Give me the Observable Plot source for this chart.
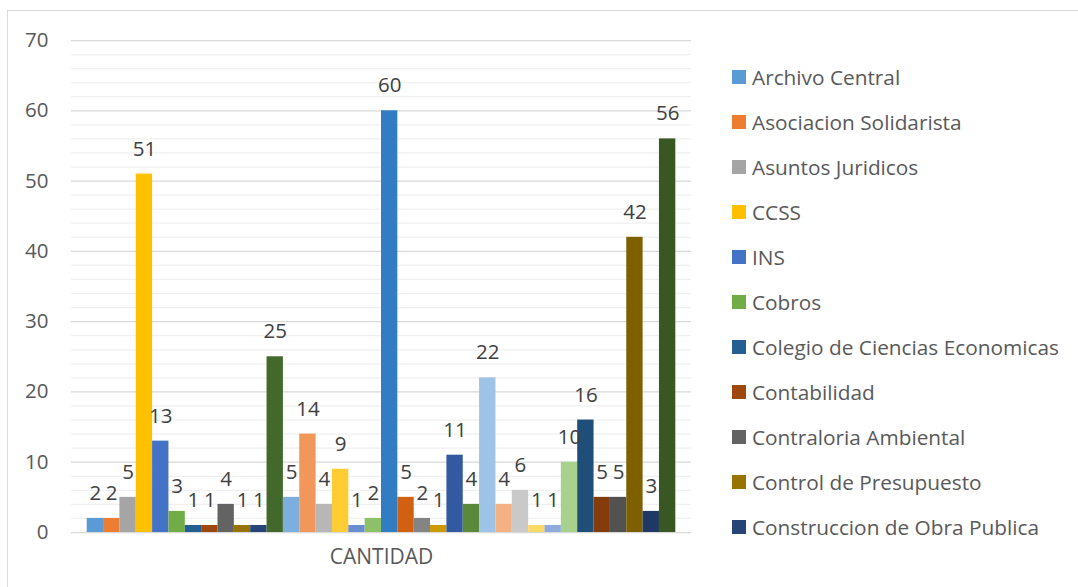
<!DOCTYPE html>
<html><head><meta charset="utf-8">
<script src="https://cdn.jsdelivr.net/npm/d3@7"></script>
<script src="https://cdn.jsdelivr.net/npm/@observablehq/plot@0.6"></script>
<style>
body{margin:0;background:#fff;font-family:"Open Sans",sans-serif;}
#wrap{position:relative;width:1078px;height:587px;overflow:hidden;background:#fff;}
#frame{position:absolute;left:7px;top:10px;width:1100px;height:620px;border:1.5px solid #d9d9d9;box-sizing:border-box;}
#chart{position:absolute;left:0;top:0;}
#legend{position:absolute;left:732px;top:54.5px;}
.row{display:flex;align-items:center;height:45px;font-size:20.8px;color:#595959;white-space:nowrap;}
.sw{width:14px;height:14px;margin-right:6px;flex:none;}
</style></head>
<body>
<div id="wrap"><div id="frame"></div><div id="chart"></div><div id="legend"></div></div>
<script>
// Values (one bar per area, in the chart's order)
const values = [2,2,5,51,13,3,1,1,4,1,1,25,5,14,4,9,1,2,60,5,2,1,11,4,22,4,6,1,1,10,16,5,5,42,3,56];
// Series names visible in the legend (the legend shows only the first 11)
const legendNames = ["Archivo Central","Asociacion Solidarista","Asuntos Juridicos","CCSS","INS","Cobros",
  "Colegio de Ciencias Economicas","Contabilidad","Contraloria Ambiental","Control de Presupuesto","Construccion de Obra Publica"];
// Excel-style series colours
const colors = ["#5B9BD5","#ED7D31","#A5A5A5","#FFC000","#4472C4","#70AD47",
  "#255E91","#9E480E","#636363","#997300","#264478","#43682B",
  "#7CAFDD","#F1975A","#B7B7B7","#FFCD33","#698ED0","#8CC168",
  "#327DC2","#D26012","#848484","#CC9A00","#335AA1","#5A8A39",
  "#9DC3E6","#F4B183","#C9C9C9","#FFD966","#8FAADC","#A9D18E",
  "#1F4E79","#843C0C","#525252","#7F6000","#203864","#385723"];
const yTicks = [0,10,20,30,40,50,60,70];
const yMinor = [2,4,6,8,12,14,16,18,22,24,26,28,32,34,36,38,42,44,46,48,52,54,56,58,62,64,66,68];
const categoryLabel = ["CANTIDAD"];

const data = values.map((v,i)=>({i, v}));
const idx = values.map((_,i)=>i);

const chart = Plot.plot({
  width:1078, height:587,
  marginLeft:71, marginRight:387, marginTop:40, marginBottom:55,
  style:{fontFamily:"'Open Sans', sans-serif", fontSize:"20px", background:"transparent"},
  x:{type:"band", domain:idx, paddingInner:0, paddingOuter:0.96, round:false, axis:null},
  y:{domain:[0,70]},
  color:{type:"ordinal", domain:idx, range:colors},
  marks:[
    Plot.ruleY(yMinor, {stroke:"#f0f0f0", strokeWidth:1.25}),
    Plot.ruleY(yTicks, {stroke:"#d9d9d9", strokeWidth:1.25}),
    Plot.axisY(yTicks, {tickSize:0, tickPadding:23, fontSize:20.5, fill:"#595959", label:null}),
    Plot.barY(data, {x:"i", y:"v", fill:"i", inset:0}),
    Plot.text(data, {x:"i", y:"v", text:"v", dy:-25, fontSize:20.5, fill:"#404040"}),
    Plot.text(categoryLabel, {frameAnchor:"bottom", dy:31, fontSize:21, fill:"#595959", text:d=>d})
  ]
});
document.getElementById("chart").appendChild(chart);

const leg = document.getElementById("legend");
legendNames.forEach((n,i)=>{
  const r = document.createElement("div"); r.className="row";
  const s = document.createElement("span"); s.className="sw"; s.style.background=colors[i];
  const t = document.createElement("span"); t.textContent=n;
  r.appendChild(s); r.appendChild(t); leg.appendChild(r);
});
</script>
</body></html>
